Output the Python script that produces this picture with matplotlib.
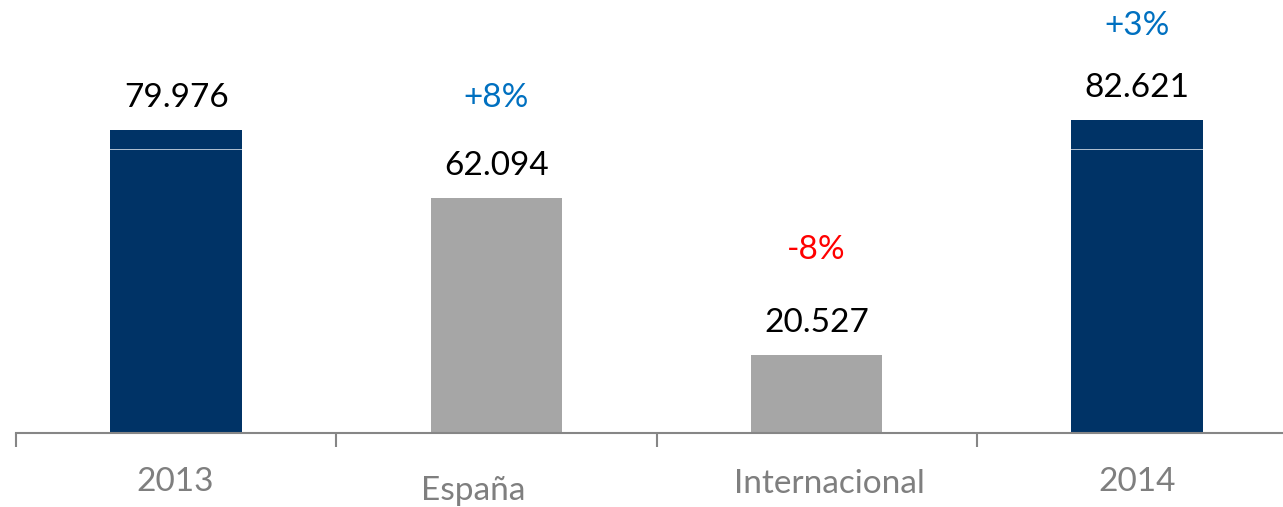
import matplotlib.pyplot as plt

# datos
categorias = ["2013", "España", "Internacional", "2014"]
valores = [79976, 62094, 20527, 82621]
etiquetas_valor = ["79.976", "62.094", "20.527", "82.621"]
variaciones = ["", "+8%", "-8%", "+3%"]
colores_var = ["#0070C0", "#0070C0", "#FF0000", "#0070C0"]
colores_barra = ["#003366", "#A6A6A6", "#A6A6A6", "#003366"]

# desplazamientos de las etiquetas (puntos)
offset_cat = [(-1, -35), (-17, -42), (9, -37), (0, -35)]
offset_var = [0, 72, 76, 68]

plt.rcParams['font.family'] = ['Lato', 'DejaVu Sans']

fig = plt.figure(figsize=(12.83, 5.07), dpi=100)
ax = fig.add_axes([16 / 1283, 74 / 507, 1281 / 1283, 433 / 507])

x = range(len(categorias))
ax.bar(x, valores, width=0.41, color=colores_barra, zorder=2)
ax.axhline(75000, color="white", lw=0.7, alpha=0.7, zorder=3)

ax.set_xlim(-0.5, 3.5)
ax.set_ylim(0, 114300)

for i, v in enumerate(valores):
    ax.annotate(etiquetas_valor[i], (i, v), xytext=(0, 23), textcoords="offset points",
                ha="center", va="center", fontsize=24, color="black")
    if variaciones[i]:
        ax.annotate(variaciones[i], (i, v), xytext=(0, offset_var[i]), textcoords="offset points",
                    ha="center", va="center", fontsize=24, color=colores_var[i])
    ax.annotate(categorias[i], (i, 0), xytext=offset_cat[i], textcoords="offset points",
                ha="center", va="center", fontsize=24, color="#7F7F7F", annotation_clip=False)

# eje
for lado in ["top", "right", "left"]:
    ax.spines[lado].set_visible(False)
ax.spines["bottom"].set_color("#868686")
ax.spines["bottom"].set_linewidth(1.5)
ax.spines["bottom"].set_zorder(4)
ax.set_yticks([])
ax.set_xticks([])
ax.set_xticks([-0.5, 0.5, 1.5, 2.5, 3.5], minor=True)
ax.tick_params(axis="x", which="minor", direction="out", length=10, width=1.5,
               color="#868686", labelbottom=False)

fig.savefig("out.png", dpi=100)
